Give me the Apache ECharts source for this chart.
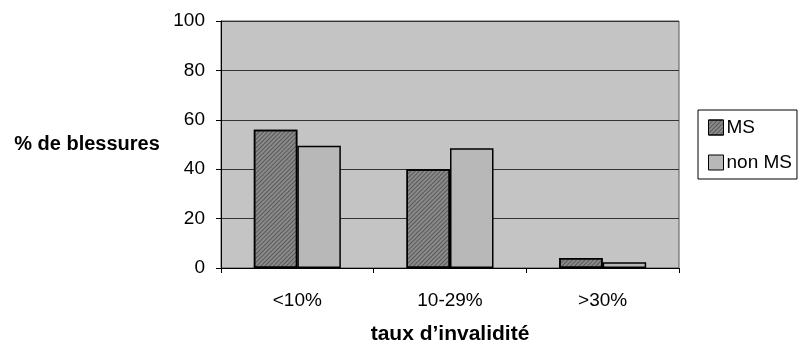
<!DOCTYPE html>
<html><head><meta charset="utf-8">
<script src="https://cdn.jsdelivr.net/npm/echarts@6/dist/echarts.min.js"></script>
<style>html,body{margin:0;padding:0;background:#fff}#c{width:802px;height:346px}</style>
</head><body><div id="c"></div>
<script>
const categories = ['<10%', '10-29%', '>30%'];
const msValues = [56, 40, 4];
const nonMsValues = [49.5, 48.5, 2.3];
const yTicks = [0, 20, 40, 60, 80, 100];

const chart = echarts.init(document.getElementById('c'), null, {renderer: 'canvas'});
const font = 'Liberation Sans, Arial, sans-serif';
chart.setOption({
  animation: false,
  backgroundColor: '#ffffff',
  grid: {left: 221, right: 123, top: 21, bottom: 78, outerBoundsMode: 'none', containLabel: false,
    show: true, backgroundColor: '#c4c4c4', borderColor: '#555', borderWidth: 1},
  legend: {
    data: ['MS', 'non MS'], orient: 'vertical', left: 698, top: 110,
    padding: [7, 5, 6, 10], itemGap: 14,
    borderColor: '#000', borderWidth: 1, backgroundColor: '#fff',
    icon: 'rect',
    itemWidth: 15, itemHeight: 15, itemStyle: {borderColor: '#000', borderWidth: 1},
    textStyle: {fontFamily: font, fontSize: 19, color: '#000', padding: [0, 0, 0, -2], lineHeight: 21}
  },
  xAxis: {
    type: 'category', data: categories,
    name: 'taux d\u2019invalidité', nameLocation: 'middle', nameGap: 56,
    nameTextStyle: {fontFamily: font, fontSize: 21, fontWeight: 'bold', color: '#000'},
    axisLine: {lineStyle: {color: '#000'}},
    axisTick: {show: true, length: 5, lineStyle: {color: '#000'}},
    axisLabel: {fontFamily: font, fontSize: 19, color: '#000', margin: 23}
  },
  yAxis: {
    type: 'value', min: 0, max: 100, interval: 20,
    name: '% de blessures', nameLocation: 'middle', nameRotate: 0, nameGap: 134,
    nameTextStyle: {fontFamily: font, fontSize: 20, fontWeight: 'bold', color: '#000', align: 'center'},
    axisLine: {show: true, lineStyle: {color: '#000'}},
    axisTick: {show: true, length: 5, lineStyle: {color: '#000'}},
    axisLabel: {fontFamily: font, fontSize: 19, color: '#000', margin: 16,
      formatter: v => yTicks.includes(v) ? String(v) : ''},
    splitLine: {lineStyle: {color: '#333', width: 1}}
  },
  series: [
    {name: 'MS', type: 'bar', data: msValues, barGap: '0%', barCategoryGap: '43%',
      itemStyle: {color: '#8a8a8a', borderColor: '#000', borderWidth: 1.5,
        decal: {symbol: 'rect', dashArrayX: [1, 0], dashArrayY: [1, 2], rotation: -Math.PI / 4, color: 'rgba(40,40,40,0.5)'}}},
    {name: 'non MS', type: 'bar', data: nonMsValues,
      itemStyle: {color: '#b8b8b8', borderColor: '#000', borderWidth: 1.5}}
  ]
});
</script></body></html>
